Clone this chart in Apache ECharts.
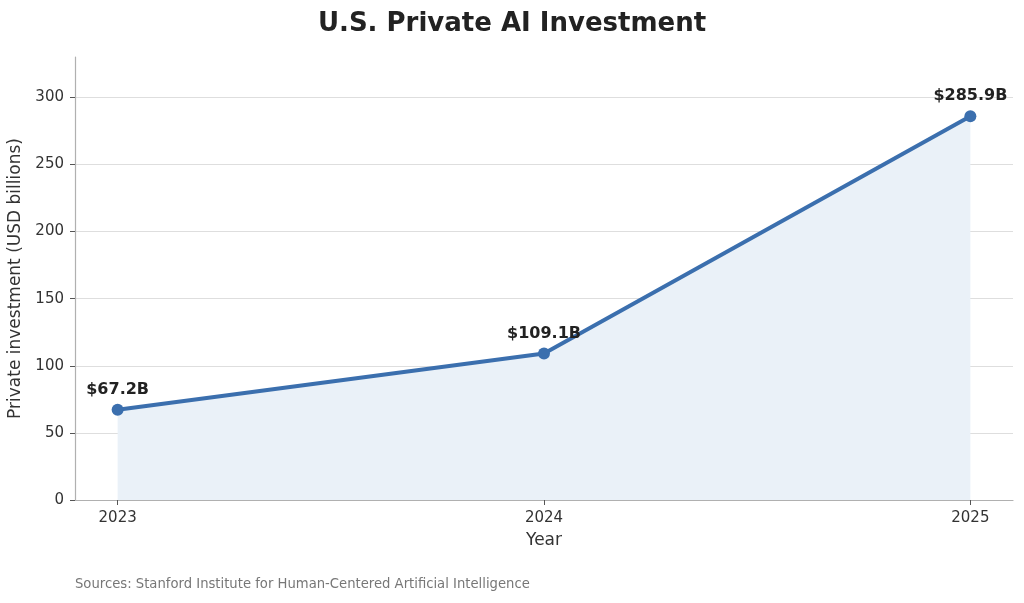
<!DOCTYPE html>
<html>
<head>
<meta charset="utf-8">
<script src="https://cdn.jsdelivr.net/npm/echarts@6/dist/echarts.min.js"></script>
<style>
  html, body { margin: 0; padding: 0; background: #fff; }
  #chart { width: 1024px; height: 603px; }
</style>
</head>
<body>
<div id="chart"></div>
<script>
    'use strict';
    var years = [2023, 2024, 2025];
    var investment = [67.2, 109.1, 285.9];
    var yTicks = [0, 50, 100, 150, 200, 250, 300];

    var font = 'DejaVu Sans';
    var lineColor = '#3b6fae';

    var chart = echarts.init(document.getElementById('chart'));
    var option = {
        animation : false,
        backgroundColor : '#ffffff',
        title : [
            {
                text : 'U.S. Private AI Investment',
                left : 'center',
                top : 6,
                textStyle : { fontFamily : font, fontSize : 26, fontWeight : 'bold', color : '#222' }
            },
            {
                text : 'Sources: Stanford Institute for Human-Centered Artificial Intelligence',
                left : 75,
                top : 578,
                padding : 0,
                textStyle : { fontFamily : font, fontSize : 13.2, fontWeight : 'normal', color : '#777' }
            }
        ],
        grid : {
            left : 75,
            right : 11,
            top : 57,
            bottom : 103,
            containLabel : false,
            outerBoundsMode : 'none'
        },
        xAxis : {
            type : 'value',
            min : 2022.9,
            max : 2025.1,
            name : 'Year',
            nameLocation : 'middle',
            nameGap : 32,
            nameTextStyle : { fontFamily : font, fontSize : 17, color : '#333' },
            axisLine : { show : true, lineStyle : { color : '#b0b0b0', width : 1.2 } },
            axisTick : { show : true, customValues : years, length : 5, lineStyle : { color : '#555' } },
            axisLabel : {
                customValues : years,
                fontFamily : font, fontSize : 15, color : '#333', margin : 11,
                formatter : function (v) { return String(Math.round(v)); }
            },
            splitLine : { show : false }
        },
        yAxis : {
            type : 'value',
            min : 0,
            max : 330,
            name : 'Private investment (USD billions)',
            nameLocation : 'middle',
            nameGap : 45,
            nameTextStyle : { fontFamily : font, fontSize : 17, color : '#333' },
            axisLine : { show : true, lineStyle : { color : '#b0b0b0', width : 1.2 } },
            axisTick : { show : true, customValues : yTicks, length : 5, lineStyle : { color : '#555' } },
            axisLabel : { customValues : yTicks, fontFamily : font, fontSize : 15, color : '#333', margin : 11 },
            splitLine : { show : true, lineStyle : { color : '#dedede', width : 1 } }
        },
        series : [
            {
                type : 'line',
                data : years.map(function (y, i) { return [y, investment[i]]; }),
                symbol : 'circle',
                symbolSize : 12,
                lineStyle : { color : lineColor, width : 4 },
                itemStyle : { color : lineColor },
                areaStyle : { color : '#eaf1f8', opacity : 1 },
                label : {
                    show : true,
                    position : 'top',
                    distance : 6,
                    fontFamily : font,
                    fontSize : 16,
                    fontWeight : 'bold',
                    color : '#222',
                    formatter : function (p) { return '$' + p.value[1].toFixed(1) + 'B'; }
                },
                z : 3
            }
        ]
    };
    chart.setOption(option);
</script>
</body>
</html>
